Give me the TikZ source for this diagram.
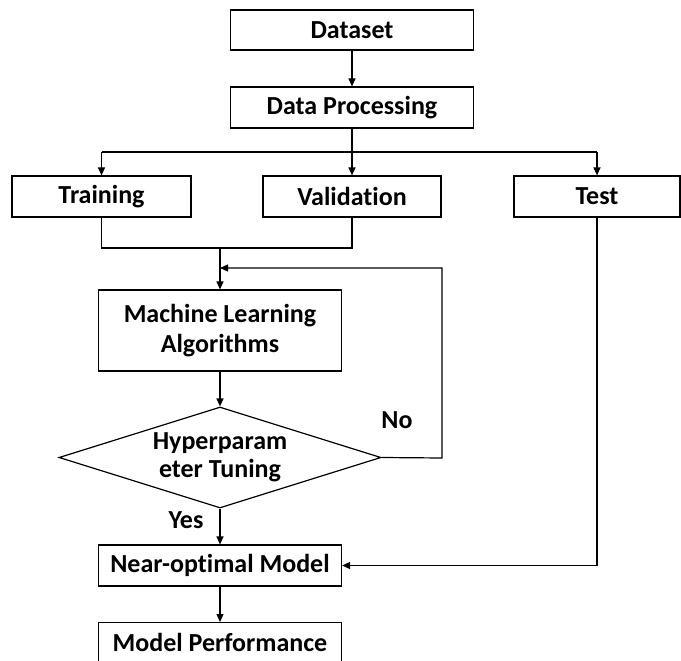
\documentclass[tikz,border=0pt]{standalone}
\usepackage{fontspec}
\setmainfont{Carlito}[Ligatures=NoCommon]
\usetikzlibrary{arrows.meta,shapes.geometric}

\tikzset{
  box/.style={draw=black, line width=1.2pt, rectangle, inner sep=0pt,
    align=center, font=\fontsize{26}{30}\selectfont\bfseries},
  decide/.style={draw=black, line width=1.2pt, diamond, inner sep=0pt,
    shape aspect=3.2, minimum width=322pt, minimum height=101pt,
    align=center, font=\fontsize{26}{28}\selectfont\bfseries},
  flow/.style={draw=black, line width=1.2pt, -{Triangle[length=8pt,width=7pt]}},
  wire/.style={draw=black, line width=1.2pt},
  tag/.style={font=\fontsize{26}{30}\selectfont\bfseries}
}

\begin{document}
\begin{tikzpicture}[x=1pt,y=-1pt]
  \useasboundingbox (0,0) rectangle (681,661);
  \clip (0,0) rectangle (681,661);

  % boxes
  \node[box, minimum width=243pt, minimum height=40pt] (data) at (352,30) {Dataset};
  \node[box, minimum width=243pt, minimum height=41pt] (proc) at (352,107.5) {Data Processing};
  \node[box, minimum width=179pt, minimum height=41pt] (train) at (101.5,196.5) {Training};
  \node[box, minimum width=178pt, minimum height=41pt] (valid) at (352,196.5) {Validation};
  \node[box, minimum width=166pt, minimum height=41pt] (test) at (597,196.5) {Test};
  \node[box, minimum width=243pt, minimum height=81pt] (ml) at (220,330.5) {Machine Learning\\Algorithms};
  \node[decide] (tune) at (220,457.5) {Hyperparam\\eter Tuning};
  \node[box, minimum width=243pt, minimum height=41pt] (near) at (220,565.5) {Near-optimal Model};
  \node[box, minimum width=243pt, minimum height=50pt, anchor=north] (perf) at (220,622) {};
  \node[tag] (perftext) at (220,642) {Model Performance};

  % labels
  \node[tag] (no) at (397,420) {No};
  \node[tag] (yes) at (186,520) {Yes};

  % junction points
  \coordinate (split) at (352,152);
  \coordinate (merge) at (220,248);
  \coordinate (back) at (220,268);
  \coordinate (loop) at (442,458);

  % connectors
  \draw[flow] (data) -- (proc);
  \draw[wire] (proc.south) -- (split);
  \draw[wire] (train.north |- split) -- (test.north |- split);
  \draw[flow] (train.north |- split) -- (train.north);
  \draw[flow] (split) -- (valid.north);
  \draw[flow] (test.north |- split) -- (test.north);

  \draw[wire] (train.south) -- (train.south |- merge) -- (valid.south |- merge) -- (valid.south);
  \draw[flow] (merge) -- (ml.north);
  \draw[flow] (tune.east) -- (loop) |- (back);

  \draw[flow] (ml.south) -- (tune.north);
  \draw[flow] (tune.south) -- (near.north);
  \draw[flow] (test.south) |- (near.east);
  \draw[flow] (near.south) -- (perf.north);
\end{tikzpicture}
\end{document}
